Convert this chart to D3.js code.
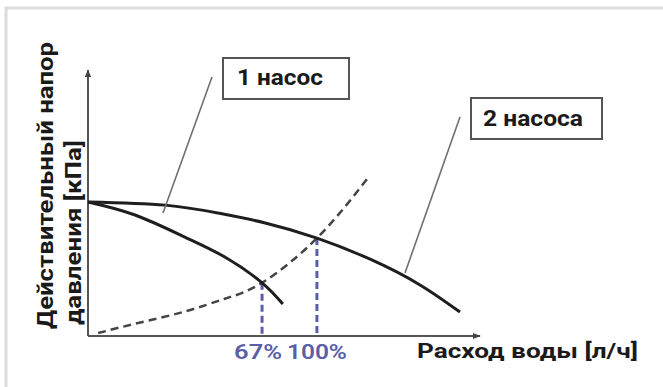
<!DOCTYPE html>
<html>
<head>
<meta charset="utf-8">
<script src="https://cdn.jsdelivr.net/npm/d3@7"></script>
<style>
  body { margin: 0; background: #fff; }
  svg { display: block; }
  text { font-family: Roboto, "Liberation Sans", Arial, sans-serif; }
</style>
</head>
<body>
<div id="canvas"></div>
<script>
// flow and head in arbitrary units (0..100)
let onePumpFlow = [0, 12.0, 24.7, 34.9, 44.4, 49.7];
let onePumpHead = [50.4, 45.5, 37.2, 29.7, 20.0, 12.0];

let twoPumpFlow = [0, 19.6, 33.2, 45.2, 58.4, 72.4, 84.7, 94.9];
let twoPumpHead = [50.4, 49.2, 46.2, 42.5, 36.8, 28.6, 19.2, 9.0];

let systemFlow = [2.6, 12.0, 24.7, 34.9, 44.4, 58.4, 71.4];
let systemHead = [1.1, 4.6, 9.2, 14.0, 20.0, 36.8, 59.4];

let opFlow = [44.4, 58.4];
let opHead = [20.0, 36.8];
let opLabels = ["67%", "100%"];

let yTitle = ["Действительный напор", "давления [кПа]"];
let xTitle = "Расход воды [л/ч]";
let seriesLabels = ["1 насос", "2 насоса"];

const W = 663, H = 387;
let margin = { left: 88, right: 183, top: 70, bottom: 51 };

let svg = d3.select("#canvas")
    .append("svg")
    .attr("width", W)
    .attr("height", H);

// light frame, top + left
svg.append("line").attr("x1", 5).attr("x2", W).attr("y1", 8).attr("y2", 8)
    .attr("stroke", "#dcdcdc").attr("stroke-width", 3);
svg.append("line").attr("x1", 6).attr("x2", 6).attr("y1", 7).attr("y2", H)
    .attr("stroke", "#dcdcdc").attr("stroke-width", 3);

let x = d3.scaleLinear().domain([0, 100]).range([margin.left, W - margin.right]);
let y = d3.scaleLinear().domain([0, 100]).range([H - margin.bottom, margin.top]);

let defs = svg.append("defs");
defs.append("marker")
    .attr("id", "arrow")
    .attr("viewBox", "0 0 10 10")
    .attr("refX", 9).attr("refY", 5)
    .attr("markerWidth", 4).attr("markerHeight", 4)
    .attr("orient", "auto")
    .append("path")
    .attr("d", "M0,1 L10,5 L0,9 z")
    .attr("fill", "#444");

// axes: no ticks, only the domain lines
let xAxis = svg.append("g")
    .attr("transform", `translate(0,${y(0)})`)
    .call(d3.axisBottom(x).ticks(0).tickSizeOuter(0));
let yAxis = svg.append("g")
    .attr("transform", `translate(${x(0)},0)`)
    .call(d3.axisLeft(y).ticks(0).tickSizeOuter(0));
xAxis.select(".domain").attr("stroke", "#555").attr("stroke-width", 2)
    .attr("d", `M${x(0)},0H${x(100)}`).attr("marker-end", "url(#arrow)");
yAxis.select(".domain").attr("stroke", "#555").attr("stroke-width", 2)
    .attr("d", `M0,${y(0)}V${y(100)}`).attr("marker-end", "url(#arrow)");

let line = d3.line()
    .x(d => x(d[0]))
    .y(d => y(d[1]))
    .curve(d3.curveNatural);

let zip = (a, b) => a.map((v, i) => [v, b[i]]);

// operating point drop lines
svg.selectAll("line.op")
    .data(zip(opFlow, opHead))
    .join("line")
    .attr("class", "op")
    .attr("x1", d => x(d[0])).attr("x2", d => x(d[0]))
    .attr("y1", d => y(d[1])).attr("y2", y(0) - 2)
    .attr("stroke", "#5a5ea8")
    .attr("stroke-width", 3)
    .attr("stroke-dasharray", "7,4");

// system curve
svg.append("path")
    .datum(zip(systemFlow, systemHead))
    .attr("d", line)
    .attr("fill", "none")
    .attr("stroke", "#444")
    .attr("stroke-width", 2.5)
    .attr("stroke-dasharray", "8,5");

// pump curves
svg.append("path")
    .datum(zip(onePumpFlow, onePumpHead))
    .attr("d", line)
    .attr("fill", "none")
    .attr("stroke", "#1e1e1e")
    .attr("stroke-width", 3);
svg.append("path")
    .datum(zip(twoPumpFlow, twoPumpHead))
    .attr("d", line)
    .attr("fill", "none")
    .attr("stroke", "#1e1e1e")
    .attr("stroke-width", 3);

// percentage labels under the drop lines
svg.selectAll("text.op")
    .data(opLabels)
    .join("text")
    .attr("class", "op")
    .attr("x", (d, i) => x(opFlow[i]) - (i == 0 ? 4 : 0))
    .attr("y", 359)
    .attr("text-anchor", "middle")
    .attr("font-size", 20)
    .attr("font-weight", 600)
    .attr("fill", "#5a5ea8")
    .attr("textLength", (d, i) => i == 0 ? 48 : 60)
    .attr("lengthAdjust", "spacingAndGlyphs")
    .text(d => d);

// callouts
let callouts = [
    { box: [223, 58, 126, 41], text: [237, 85, 86], lead: [212, 77, 163, 213] },
    { box: [471, 98, 131, 41], text: [483, 126, 100], lead: [460, 117, 405, 273] }
];
callouts.forEach((c, i) => {
    svg.append("line")
        .attr("x1", c.lead[0]).attr("y1", c.lead[1])
        .attr("x2", c.lead[2]).attr("y2", c.lead[3])
        .attr("stroke", "#707070")
        .attr("stroke-width", 1.6);
    svg.append("rect")
        .attr("x", c.box[0]).attr("y", c.box[1])
        .attr("width", c.box[2]).attr("height", c.box[3])
        .attr("fill", "#fff")
        .attr("stroke", "#555")
        .attr("stroke-width", 2);
    svg.append("text")
        .attr("x", c.text[0]).attr("y", c.text[1])
        .attr("font-size", 22)
        .attr("font-weight", "bold")
        .attr("fill", "#1a1a1a")
        .attr("textLength", c.text[2])
        .attr("lengthAdjust", "spacingAndGlyphs")
        .text(seriesLabels[i]);
});

// axis titles
svg.append("text")
    .attr("x", 417).attr("y", 358)
    .attr("font-size", 21)
    .attr("font-weight", "bold")
    .attr("fill", "#1a1a1a")
    .attr("textLength", 221)
    .attr("lengthAdjust", "spacingAndGlyphs")
    .text(xTitle);

let yt = [[53, 329, 287], [81, 325, 185]];
svg.selectAll("text.ytitle")
    .data(yTitle)
    .join("text")
    .attr("class", "ytitle")
    .attr("transform", (d, i) => `translate(${yt[i][0]},${yt[i][1]}) rotate(-90)`)
    .attr("font-size", 22)
    .attr("font-weight", "bold")
    .attr("fill", "#1a1a1a")
    .attr("textLength", (d, i) => yt[i][2])
    .attr("lengthAdjust", "spacingAndGlyphs")
    .text(d => d);
</script>
</body>
</html>
